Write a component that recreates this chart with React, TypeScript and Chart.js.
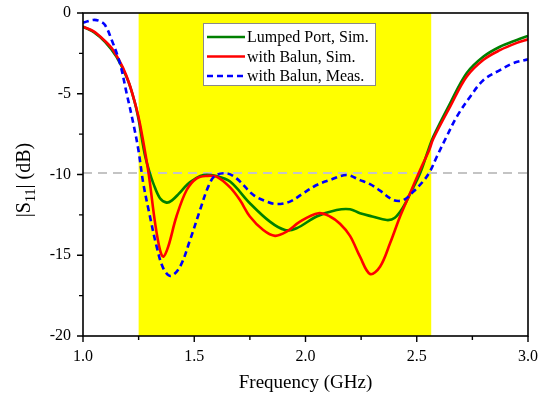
import React, { useEffect, useRef } from "react";
import { Chart, registerables } from "chart.js";

Chart.register(...registerables);

// ---------- data ----------
const lumpedFreq = [1.0, 1.05, 1.1, 1.15, 1.2, 1.23, 1.25, 1.265, 1.28, 1.3, 1.316, 1.346, 1.376, 1.4, 1.43, 1.47, 1.5, 1.541, 1.6, 1.661, 1.75, 1.84, 1.908, 1.96, 2.05, 2.14, 2.2, 2.245, 2.3, 2.365, 2.4, 2.44, 2.47, 2.515, 2.552, 2.574, 2.65, 2.724, 2.8, 2.874, 2.95, 3.0];
const lumpedS11 = [-0.85, -1.2, -1.8, -2.7, -4.1, -5.4, -6.6, -7.8, -8.9, -9.9, -10.55, -11.47, -11.74, -11.6, -11.2, -10.6, -10.3, -10.03, -10.1, -10.44, -11.78, -12.92, -13.44, -13.33, -12.6, -12.2, -12.15, -12.4, -12.6, -12.82, -12.7, -12.0, -11.2, -9.93, -8.48, -7.66, -5.59, -3.73, -2.7, -2.09, -1.67, -1.42];

const balunSimFreq = [1.0, 1.05, 1.1, 1.135, 1.18, 1.21, 1.24, 1.255, 1.27, 1.279, 1.29, 1.301, 1.324, 1.346, 1.361, 1.383, 1.42, 1.466, 1.511, 1.556, 1.6, 1.661, 1.706, 1.75, 1.81, 1.863, 1.915, 1.975, 2.058, 2.11, 2.155, 2.2, 2.245, 2.29, 2.335, 2.38, 2.425, 2.47, 2.515, 2.556, 2.574, 2.65, 2.724, 2.8, 2.874, 2.95, 3.0];
const balunSimS11 = [-0.85, -1.15, -1.75, -2.29, -3.4, -4.46, -5.9, -6.8, -7.9, -8.6, -9.5, -10.55, -13.0, -14.67, -15.09, -14.47, -12.6, -10.96, -10.24, -10.09, -10.13, -10.8, -11.6, -12.6, -13.44, -13.8, -13.54, -12.92, -12.4, -12.6, -13.05, -13.8, -15.09, -16.16, -15.71, -14.26, -12.6, -11.16, -9.72, -8.48, -7.8, -5.8, -3.95, -2.9, -2.3, -1.85, -1.63];

const balunMeasFreq = [1.0, 1.046, 1.075, 1.099, 1.129, 1.166, 1.196, 1.226, 1.249, 1.271, 1.301, 1.331, 1.361, 1.394, 1.436, 1.481, 1.526, 1.563, 1.593, 1.645, 1.69, 1.766, 1.826, 1.87, 1.93, 1.99, 2.05, 2.11, 2.185, 2.245, 2.29, 2.335, 2.395, 2.44, 2.485, 2.53, 2.56, 2.59, 2.634, 2.68, 2.74, 2.8, 2.874, 2.934, 3.0];
const balunMeasS11 = [-0.6, -0.43, -0.5, -0.74, -1.67, -3.11, -4.97, -6.83, -8.48, -10.55, -12.6, -14.47, -15.81, -16.28, -15.71, -14.06, -12.2, -10.75, -10.09, -9.93, -10.24, -11.27, -11.68, -11.83, -11.68, -11.16, -10.65, -10.34, -10.03, -10.35, -10.6, -11.0, -11.58, -11.58, -11.06, -10.4, -9.8, -8.9, -7.66, -6.42, -5.18, -4.15, -3.53, -3.11, -2.87];

const seriesLabels = ["Lumped Port, Sim.", "with Balun, Sim.", "with Balun, Meas."];
const bandRange = [1.25, 2.565];
const refLevel = -9.9;
const xMajorTicks = [1.0, 1.5, 2.0, 2.5, 3.0];
const xMinorTicks = [1.25, 1.75, 2.25, 2.75];
const yMajorTicks = [0, -5, -10, -15, -20];
const yMinorTicks = [-2.5, -7.5, -12.5, -17.5];
const xTitle = "Frequency (GHz)";

const SERIF = "'Liberation Serif', 'Times New Roman', serif";
const colors = ["#008000", "#ff0000", "#0000ff"];

const toPts = (f: number[], v: number[]) => f.map((x, i) => ({ x, y: v[i] }));

const decorPlugin = {
  id: "decor",
  beforeDatasetsDraw(chart: any) {
    const { ctx, chartArea, scales } = chart;
    const x0 = scales.x.getPixelForValue(bandRange[0]);
    const x1 = scales.x.getPixelForValue(bandRange[1]);
    ctx.save();
    ctx.fillStyle = "#ffff00";
    ctx.fillRect(x0, chartArea.top, x1 - x0, chartArea.bottom - chartArea.top);
    ctx.restore();
  },
  afterDraw(chart: any) {
    const { ctx, chartArea, scales } = chart;
    const { left, right, top, bottom } = chartArea;
    ctx.save();
    // frame
    ctx.strokeStyle = "#000";
    ctx.lineWidth = 1.6;
    ctx.strokeRect(left, top, right - left, bottom - top);
    // ticks
    ctx.lineWidth = 1.4;
    ctx.beginPath();
    xMajorTicks.forEach((t) => {
      const px = scales.x.getPixelForValue(t);
      ctx.moveTo(px, bottom);
      ctx.lineTo(px, bottom + 6);
    });
    xMinorTicks.forEach((t) => {
      const px = scales.x.getPixelForValue(t);
      ctx.moveTo(px, bottom);
      ctx.lineTo(px, bottom + 4);
    });
    yMajorTicks.forEach((t) => {
      const py = scales.y.getPixelForValue(t);
      ctx.moveTo(left, py);
      ctx.lineTo(left - 6, py);
    });
    yMinorTicks.forEach((t) => {
      const py = scales.y.getPixelForValue(t);
      ctx.moveTo(left, py);
      ctx.lineTo(left - 4, py);
    });
    ctx.stroke();

    // x title
    ctx.fillStyle = "#000";
    ctx.font = `19px ${SERIF}`;
    ctx.textAlign = "center";
    ctx.textBaseline = "alphabetic";
    ctx.fillText(xTitle, (left + right) / 2, 388);

    // y title |S11| (dB)
    const big = `20px ${SERIF}`;
    const small = `14px ${SERIF}`;
    const parts = [
      { t: "|S", f: big, dy: 0 },
      { t: "11", f: small, dy: 5 },
      { t: "| (dB)", f: big, dy: 0 },
    ];
    let total = 0;
    parts.forEach((p) => {
      ctx.font = p.f;
      total += ctx.measureText(p.t).width;
    });
    ctx.translate(30, 180);
    ctx.rotate(-Math.PI / 2);
    ctx.textAlign = "left";
    let cx = -total / 2;
    parts.forEach((p) => {
      ctx.font = p.f;
      ctx.fillText(p.t, cx, p.dy);
      cx += ctx.measureText(p.t).width;
    });
    ctx.setTransform(1, 0, 0, 1, 0, 0);

    // legend
    const bx = 203, by = 23, bw = 172, bh = 62;
    ctx.fillStyle = "#fff";
    ctx.fillRect(bx, by, bw, bh);
    ctx.strokeStyle = "#8a8a8a";
    ctx.lineWidth = 1;
    ctx.strokeRect(bx + 0.5, by + 0.5, bw, bh);
    const rows = [37, 56.5, 76];
    ctx.font = `16px ${SERIF}`;
    ctx.textAlign = "left";
    ctx.textBaseline = "middle";
    seriesLabels.forEach((lab, i) => {
      ctx.strokeStyle = colors[i];
      ctx.lineWidth = 2.6;
      ctx.setLineDash(i === 2 ? [6, 4] : []);
      ctx.beginPath();
      ctx.moveTo(207, rows[i]);
      ctx.lineTo(245, rows[i]);
      ctx.stroke();
      ctx.setLineDash([]);
      ctx.fillStyle = "#000";
      ctx.fillText(lab, 247, rows[i] + 1);
    });
    ctx.restore();
  },
};

export default function App() {
  const ref = useRef<HTMLCanvasElement | null>(null);
  useEffect(() => {
    if (!ref.current) return;
    const line = (i: number, f: number[], v: number[]) => ({
      label: seriesLabels[i],
      data: toPts(f, v),
      borderColor: colors[i],
      borderWidth: 2.6,
      borderDash: i === 2 ? [6, 4] : [],
      pointRadius: 0,
      tension: 0.35,
      order: 3 - i,
    });
    const chart = new Chart(ref.current, {
      type: "line",
      data: {
        datasets: [
          line(0, lumpedFreq, lumpedS11),
          line(1, balunSimFreq, balunSimS11),
          line(2, balunMeasFreq, balunMeasS11),
          {
            label: "ref",
            data: [
              { x: 1.0, y: refLevel },
              { x: 3.0, y: refLevel },
            ],
            borderColor: "#c4c4c4",
            borderWidth: 2,
            borderDash: [9, 6],
            pointRadius: 0,
            order: 10,
          },
        ],
      },
      options: {
        animation: false,
        responsive: false,
        maintainAspectRatio: false,
        layout: { padding: { left: 8, top: 13, right: 28, bottom: 0 } },
        plugins: { legend: { display: false }, tooltip: { enabled: false } },
        scales: {
          x: {
            type: "linear",
            min: 1,
            max: 3,
            grid: { display: false, drawTicks: false },
            border: { display: false },
            ticks: {
              stepSize: 0.5,
              padding: 11,
              color: "#000",
              font: { family: SERIF, size: 16 },
              callback: (v: any) => Number(v).toFixed(1),
            },
            afterFit: (s: any) => {
              s.height = 58;
              s.paddingLeft = 0;
              s.paddingRight = 0;
            },
          },
          y: {
            type: "linear",
            min: -20,
            max: 0,
            grid: { display: false, drawTicks: false },
            border: { display: false },
            ticks: {
              stepSize: 5,
              padding: 12,
              color: "#000",
              font: { family: SERIF, size: 16 },
              callback: (v: any) => String(v),
            },
            afterFit: (s: any) => {
              s.width = 75;
              s.paddingTop = 0;
              s.paddingBottom = 0;
            },
          },
        },
      },
      plugins: [decorPlugin],
    });
    return () => chart.destroy();
  }, []);
  return (
    <div style={{ position: "fixed", left: 0, top: 0, width: 556, height: 394, background: "#fff" }}>
      <canvas ref={ref} width={556} height={394} style={{ display: "block", width: 556, height: 394 }} />
    </div>
  );
}
